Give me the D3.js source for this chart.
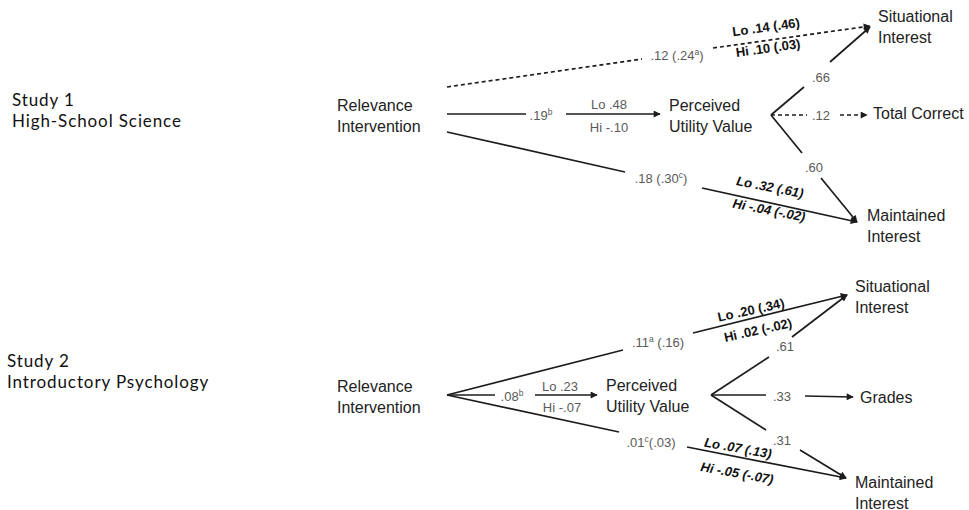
<!DOCTYPE html>
<html>
<head>
<meta charset="utf-8">
<script src="https://cdn.jsdelivr.net/npm/d3@7"></script>
<style>
  body { margin: 0; background: #fff; }
</style>
</head>
<body>
<div id="chart"></div>
<script>
// ==============================
// Datos del diagrama de rutas
// ==============================

const studyTitles = ["Study 1", "Study 2"];
const studySamples = ["High-School Science", "Introductory Psychology"];
const predictorLines = ["Relevance", "Intervention"];
const mediatorLines = ["Perceived", "Utility Value"];
const outcomesStudy1 = [["Situational", "Interest"], ["Total Correct"], ["Maintained", "Interest"]];
const outcomesStudy2 = [["Situational", "Interest"], ["Grades"], ["Maintained", "Interest"]];

// orden: directo->situacional, ->valor, directo->mantenido, valor->situacional, valor->resultado, valor->mantenido
// "^x" = superindice
const coefStudy1 = [".12 (.24^a)", ".19^b", ".18 (.30^c)", ".66", ".12", ".60"];
const coefStudy2 = [".11^a (.16)", ".08^b", ".01^c(.03)", ".61", ".33", ".31"];

// moderadores: directo->situacional, ->valor, directo->mantenido
const loStudy1 = ["Lo .14 (.46)", "Lo .48", "Lo .32 (.61)"];
const hiStudy1 = ["Hi .10 (.03)", "Hi -.10", "Hi -.04 (-.02)"];
const loStudy2 = ["Lo .20 (.34)", "Lo .23", "Lo .07 (.13)"];
const hiStudy2 = ["Hi .02 (-.02)", "Hi -.07", "Hi -.05 (-.07)"];

// ==============================
// Disposicion (posiciones y estilos)
// ==============================
const W = 969, H = 510;

const layout = [
  {
    title: [12, 106, 126.5],
    predictor: [337, 111],
    mediator: [669, 111],
    outcomes: [[878, 22], [873, 119], [867, 221]],
    paths: [
      { pts: [[447, 87], [642, 59], [713, 48], [870, 26]], label: [677, 55], dashed: true },
      { pts: [[447, 114], [526, 114], [566, 114], [660, 114]], label: [541, 115] },
      { pts: [[447, 132], [625, 172], [702, 188], [857, 222]], label: [661, 178] },
      { pts: [[771, 115], [804, 87], [830, 62], [870, 27]], label: [821, 77] },
      { pts: [[771, 115], [807, 115], [840, 115], [867, 115]], label: [821, 115], dashed: true },
      { pts: [[771, 115], [802, 153], [821, 178], [857, 222]], label: [814, 167] }
    ],
    moderators: [
      { lo: [766, 27], hi: [768, 48], angle: -8, style: "bold" },
      { lo: [609, 104], hi: [609, 127], angle: 0, style: "plain" },
      { lo: [770, 187], hi: [769, 210], angle: 11, style: "bolditalic" }
    ]
  },
  {
    title: [7, 367, 387.5],
    predictor: [337, 392],
    mediator: [606, 391],
    outcomes: [[855, 292], [860, 403], [855, 488]],
    paths: [
      { pts: [[447, 395], [623, 350], [693, 333], [847, 295]], label: [658, 342] },
      { pts: [[447, 395], [495, 395], [535, 395], [597, 395]], label: [512, 396] },
      { pts: [[447, 395], [619, 432], [687, 447], [846, 478]], label: [651, 442] },
      { pts: [[711, 395], [769, 357], [792, 337], [847, 295]], label: [785, 346] },
      { pts: [[711, 395], [766, 395], [805, 396], [853, 397]], label: [782, 396] },
      { pts: [[711, 395], [766, 430], [800, 450], [846, 478]], label: [782, 440] }
    ],
    moderators: [
      { lo: [751, 310], hi: [758, 330], angle: -12.5, style: "bold" },
      { lo: [560, 386], hi: [562, 407], angle: 0, style: "plain" },
      { lo: [738, 448], hi: [737, 473], angle: 10, style: "bolditalic" }
    ]
  }
];

const studies = [
  { outcomes: outcomesStudy1, coefs: coefStudy1, lo: loStudy1, hi: hiStudy1 },
  { outcomes: outcomesStudy2, coefs: coefStudy2, lo: loStudy2, hi: hiStudy2 }
];

const FONT_NODE = "'Liberation Sans', Arial, sans-serif";
const FONT_STUDY = "Lato, 'Open Sans', sans-serif";
const LINE_COLOR = "#1c1c1c";
const COEF_COLOR = "#5a5a5a";

// ==============================
// SVG base
// ==============================
const svg = d3.select("#chart")
  .append("svg")
  .attr("width", W)
  .attr("height", H)
  .attr("viewBox", `0 0 ${W} ${H}`)
  .style("background-color", "#fff");

svg.append("defs").append("marker")
  .attr("id", "flecha")
  .attr("viewBox", "0 0 10 10")
  .attr("refX", 9)
  .attr("refY", 5)
  .attr("markerWidth", 8)
  .attr("markerHeight", 7)
  .attr("markerUnits", "userSpaceOnUse")
  .attr("orient", "auto")
  .append("path")
  .attr("d", "M0,0 L10,5 L0,10 Z")
  .attr("fill", LINE_COLOR)
  .attr("stroke", "none");

const linea = d3.line();

// texto con superindices marcados como "^x"
function textoRico(sel, str, supSize) {
  const partes = str.split(/\^(\w)/);
  let subir = false;
  partes.forEach((p, i) => {
    if (!p) return;
    const t = sel.append("tspan").text(p);
    if (i % 2 === 1) {
      t.attr("font-size", supSize).attr("dy", -5);
      subir = true;
    } else if (subir) {
      t.attr("dy", 5);
      subir = false;
    }
  });
}

// bloque de varias lineas en un solo <text>
function bloqueTexto(g, lines, x, ys, opts) {
  const t = g.append("text")
    .attr("font-family", opts.family)
    .attr("font-size", opts.size)
    .attr("letter-spacing", opts.spacing || null)
    .attr("fill", opts.fill);
  lines.forEach((ln, i) => {
    t.append("tspan").attr("x", x).attr("y", ys[i]).text(ln);
  });
}

studies.forEach((st, s) => {
  const L = layout[s];
  const g = svg.append("g").attr("class", `study-${s + 1}`);

  // etiqueta del estudio
  bloqueTexto(g, [studyTitles[s], studySamples[s]], L.title[0], [L.title[1], L.title[2]],
    { family: FONT_STUDY, size: 17, fill: "#111", spacing: 0.9 });

  // nodos
  const nodo = { family: FONT_NODE, size: 16, fill: "#222" };
  const filas = (y0, n) => d3.range(n).map(i => y0 + i * 20.5);
  bloqueTexto(g, predictorLines, L.predictor[0], filas(L.predictor[1], 2), nodo);
  bloqueTexto(g, mediatorLines, L.mediator[0], filas(L.mediator[1], 2), nodo);
  st.outcomes.forEach((o, i) => {
    bloqueTexto(g, o, L.outcomes[i][0], filas(L.outcomes[i][1], o.length), nodo);
  });

  // rutas: dos tramos con el coeficiente en medio
  L.paths.forEach((p, i) => {
    const [a, b, c, d] = p.pts;
    g.append("path")
      .attr("d", linea([a, b]))
      .attr("fill", "none")
      .attr("stroke", LINE_COLOR)
      .attr("stroke-width", 1.7)
      .attr("stroke-dasharray", p.dashed ? "4,3" : null);
    g.append("path")
      .attr("d", linea([c, d]))
      .attr("fill", "none")
      .attr("stroke", LINE_COLOR)
      .attr("stroke-width", 1.7)
      .attr("stroke-dasharray", p.dashed ? "4,3" : null)
      .attr("marker-end", "url(#flecha)");

    const t = g.append("text")
      .attr("x", p.label[0])
      .attr("y", p.label[1])
      .attr("dy", "0.35em")
      .attr("text-anchor", "middle")
      .attr("font-family", FONT_NODE)
      .attr("font-size", 13)
      .attr("fill", COEF_COLOR);
    textoRico(t, st.coefs[i], 8.5);
  });

  // moderadores Lo / Hi
  L.moderators.forEach((m, i) => {
    [[st.lo[i], m.lo], [st.hi[i], m.hi]].forEach(([txt, pos]) => {
      const negrita = m.style !== "plain";
      g.append("text")
        .attr("transform", `translate(${pos[0]},${pos[1]}) rotate(${m.angle})`)
        .attr("dy", "0.35em")
        .attr("text-anchor", "middle")
        .attr("font-family", FONT_NODE)
        .attr("font-size", 13)
        .attr("font-weight", negrita ? "bold" : null)
        .attr("font-style", m.style === "bolditalic" ? "italic" : null)
        .attr("fill", negrita ? "#111" : COEF_COLOR)
        .text(txt);
    });
  });
});
</script>
</body>
</html>
